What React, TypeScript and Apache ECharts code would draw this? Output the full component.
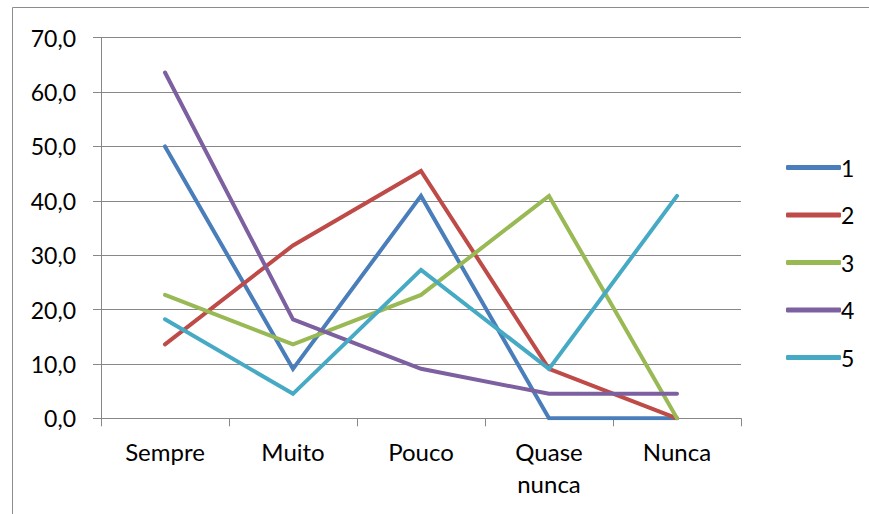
import React, { useEffect, useRef } from "react";
import * as echarts from "echarts";

const categories = ["Sempre", "Muito", "Pouco", "Quase nunca", "Nunca"];
const seriesNames = ["1", "2", "3", "4", "5"];
const series1 = [50.0, 9.1, 40.9, 0.0, 0.0];
const series2 = [13.6, 31.8, 45.5, 9.1, 0.0];
const series3 = [22.7, 13.6, 22.7, 40.9, 0.0];
const series4 = [63.6, 18.2, 9.1, 4.5, 4.5];
const series5 = [18.2, 4.5, 27.3, 9.1, 40.9];
const colors = ["#4A7EBB", "#BE4B48", "#98B954", "#7D60A0", "#46AAC5"];

const FONT = "Lato";

export default function App() {
  const ref = useRef<HTMLDivElement>(null);
  useEffect(() => {
    if (!ref.current) return;
    const chart = echarts.init(ref.current, null, { renderer: "svg" });
    const allData = [series1, series2, series3, series4, series5];
    chart.setOption({
      animation: false,
      backgroundColor: "#ffffff",
      color: colors,
      textStyle: { fontFamily: FONT },
      graphic: [
        {
          type: "rect",
          shape: { x: 12.5, y: 7.5, width: 1000, height: 700 },
          style: { fill: "none", stroke: "#8C8C8C", lineWidth: 1 },
          silent: true,
        },
      ],
      grid: { left: 101, right: 128, top: 37.7, bottom: 95.7, containLabel: false },
      legend: {
        orient: "vertical",
        left: 781,
        top: 151,
        itemWidth: 55,
        itemHeight: 5,
        itemGap: 24.5,
        icon: "roundRect",
        textStyle: { fontFamily: FONT, fontSize: 23, color: "#000", padding: [0, 0, 0, -5] },
        data: seriesNames,
      },
      xAxis: {
        type: "category",
        data: categories,
        boundaryGap: true,
        axisLine: { lineStyle: { color: "#878787", width: 1 } },
        axisTick: { show: true, length: 8, lineStyle: { color: "#878787" } },
        axisLabel: {
          fontFamily: FONT,
          fontSize: 24,
          color: "#000",
          margin: 17,
          lineHeight: 32,
          formatter: (v: string) => v.replace(" ", "\n"),
        },
        splitLine: { show: false },
      },
      yAxis: {
        type: "value",
        min: 0,
        max: 70,
        interval: 10,
        axisLine: { show: true, lineStyle: { color: "#878787", width: 1 } },
        axisTick: { show: true, length: 8, lineStyle: { color: "#878787" } },
        axisLabel: {
          fontFamily: FONT,
          fontSize: 23,
          color: "#000",
          margin: 25,
          formatter: (v: number) => v.toFixed(1).replace(".", ","),
        },
        splitLine: { show: true, lineStyle: { color: "#878787", width: 1 } },
      },
      series: allData.map((d, i) => ({
        name: seriesNames[i],
        type: "line",
        data: d,
        symbol: "none",
        showSymbol: false,
        lineStyle: { width: 4, color: colors[i], cap: "round", join: "miter" },
        itemStyle: { color: colors[i] },
      })),
    });
    return () => chart.dispose();
  }, []);
  return (
    <div
      ref={ref}
      style={{ position: "fixed", left: 0, top: 0, width: 869, height: 514 }}
    />
  );
}
